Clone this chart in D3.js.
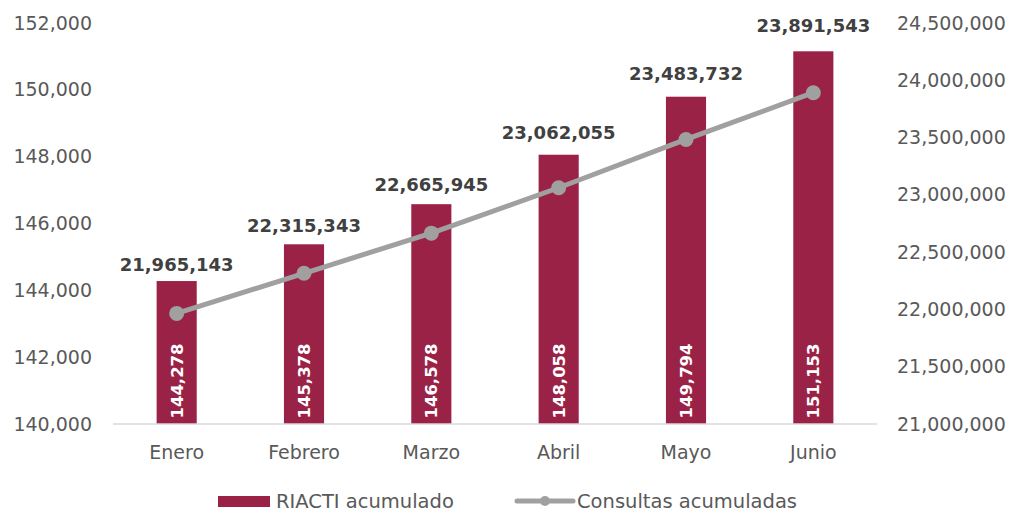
<!DOCTYPE html>
<html>
<head>
<meta charset="utf-8">
<script src="https://cdn.jsdelivr.net/npm/d3@7"></script>
<style>
  body { margin: 0; background: #fff; }
  svg { display: block; font-family: "DejaVu Sans", sans-serif; }
</style>
</head>
<body>
<svg id="chart" width="1018" height="512"></svg>
<script>
const meses = ["Enero", "Febrero", "Marzo", "Abril", "Mayo", "Junio"];
const riacti = [144278, 145378, 146578, 148058, 149794, 151153];
const consultas = [21965143, 22315343, 22665945, 23062055, 23483732, 23891543];
const leftTicks = [140000, 142000, 144000, 146000, 148000, 150000, 152000];
const rightTicks = [21000000, 21500000, 22000000, 22500000, 23000000, 23500000, 24000000, 24500000];

const barColor = "#9B2247";
const lineColor = "#A0A0A0";
const tickColor = "#595959";

const svg = d3.select("#chart");
const fmt = d3.format(",");

const plot = { left: 113, right: 877, top: 23, bottom: 424 };

const x = d3.scaleBand()
    .domain(meses)
    .range([plot.left, plot.right])
    .paddingInner(0.685)
    .paddingOuter(0.3425);

const yL = d3.scaleLinear().domain([140000, 152000]).range([plot.bottom, plot.top]);
const yR = d3.scaleLinear().domain([21000000, 24500000]).range([plot.bottom, plot.top]);

const cx = d => x(d) + x.bandwidth() / 2;

// axes
const styleAxis = g => {
    g.select(".domain").remove();
    g.selectAll("text")
        .attr("fill", tickColor)
        .style("font-size", "19px")
        .style("font-family", "DejaVu Sans, sans-serif");
};

svg.append("g")
    .attr("transform", `translate(${plot.left},0)`)
    .call(d3.axisLeft(yL).tickValues(leftTicks).tickFormat(fmt).tickSize(0).tickPadding(21))
    .call(styleAxis);

svg.append("g")
    .attr("transform", `translate(${plot.right},0)`)
    .call(d3.axisRight(yR).tickValues(rightTicks).tickFormat(fmt).tickSize(0).tickPadding(20))
    .call(styleAxis);

svg.append("g")
    .attr("transform", `translate(0,${plot.bottom})`)
    .call(d3.axisBottom(x).tickSize(0).tickPadding(22))
    .call(styleAxis);

// bars
svg.append("g")
    .selectAll("rect")
    .data(riacti)
    .join("rect")
    .attr("x", (d, i) => x(meses[i]))
    .attr("y", d => yL(d))
    .attr("width", x.bandwidth())
    .attr("height", d => plot.bottom - yL(d))
    .attr("fill", barColor);

// baseline
svg.append("line")
    .attr("x1", plot.left).attr("x2", plot.right)
    .attr("y1", plot.bottom).attr("y2", plot.bottom)
    .attr("stroke", "#D9D9D9")
    .attr("stroke-width", 1.5);

// bar values, rotated inside
svg.append("g")
    .selectAll("text")
    .data(riacti)
    .join("text")
    .attr("transform", (d, i) => `translate(${cx(meses[i])},381) rotate(-90)`)
    .attr("text-anchor", "middle")
    .attr("dy", "0.36em")
    .attr("fill", "#fff")
    .style("font-size", "16.5px")
    .style("font-weight", "bold")
    .text(d => fmt(d));

// line
const line = d3.line()
    .x((d, i) => cx(meses[i]))
    .y(d => yR(d));

svg.append("path")
    .datum(consultas)
    .attr("fill", "none")
    .attr("stroke", lineColor)
    .attr("stroke-width", 5)
    .attr("stroke-linecap", "round")
    .attr("d", line);

svg.append("g")
    .selectAll("circle")
    .data(consultas)
    .join("circle")
    .attr("cx", (d, i) => cx(meses[i]))
    .attr("cy", d => yR(d))
    .attr("r", 7.5)
    .attr("fill", lineColor);

// line values above bars
svg.append("g")
    .selectAll("text")
    .data(consultas)
    .join("text")
    .attr("x", (d, i) => cx(meses[i]))
    .attr("y", (d, i) => yL(riacti[i]) - 10 - i * 1.8)
    .attr("text-anchor", "middle")
    .attr("fill", "#404040")
    .style("font-size", "18px")
    .style("font-weight", "bold")
    .text(d => fmt(d));

// legend
const legend = svg.append("g").style("font-size", "19.5px");
legend.append("rect")
    .attr("x", 218).attr("y", 496)
    .attr("width", 52).attr("height", 11)
    .attr("fill", barColor);
legend.append("text")
    .attr("x", 276).attr("y", 508)
    .attr("fill", tickColor)
    .text("RIACTI acumulado");
legend.append("line")
    .attr("x1", 517).attr("x2", 573)
    .attr("y1", 501).attr("y2", 501)
    .attr("stroke", lineColor)
    .attr("stroke-width", 5)
    .attr("stroke-linecap", "round");
legend.append("circle")
    .attr("cx", 545).attr("cy", 501)
    .attr("r", 5)
    .attr("fill", lineColor);
legend.append("text")
    .attr("x", 577).attr("y", 508)
    .attr("fill", tickColor)
    .text("Consultas acumuladas");
</script>
</body>
</html>
